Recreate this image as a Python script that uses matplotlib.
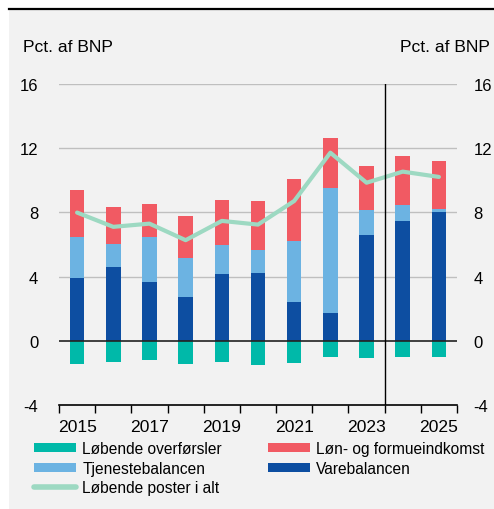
import matplotlib
matplotlib.use("Agg")
import matplotlib.pyplot as plt
import numpy as np
from matplotlib.lines import Line2D
from matplotlib.patches import Patch

plt.rcParams['font.family'] = ['Liberation Sans', 'DejaVu Sans']

years = [2015, 2016, 2017, 2018, 2019, 2020, 2021, 2022, 2023, 2024, 2025]
varebalancen = [3.94, 4.61, 3.69, 2.72, 4.15, 4.25, 2.43, 1.76, 6.58, 7.47, 8.03]
tjenestebalancen = [2.55, 1.41, 2.78, 2.43, 1.85, 1.39, 3.79, 7.76, 1.55, 1.02, 0.17]
loen_formue = [2.89, 2.34, 2.04, 2.61, 2.76, 3.05, 3.84, 3.11, 2.76, 3.00, 3.00]
overfoersler = [-1.45, -1.29, -1.20, -1.47, -1.35, -1.51, -1.41, -1.02, -1.10, -0.98, -1.04]
poster_i_alt = [7.99, 7.10, 7.30, 6.27, 7.47, 7.24, 8.71, 11.72, 9.85, 10.54, 10.21]
yticks = [-4, 0, 4, 8, 12, 16]
xlabels = ['2015', '2017', '2019', '2021', '2023', '2025']

c_teal = '#00b9a9'
c_red = '#f15a63'
c_light = '#6cb3e2'
c_dark = '#0d4ea1'
c_line = '#9dd9c2'
bg = '#f2f2f2'

fig = plt.figure(figsize=(4.94, 5.10), dpi=100)
fig.patch.set_facecolor('white')
fig.patches.append(plt.Rectangle((9/494, 0), 1, 1 - 9/510, transform=fig.transFigure,
                                 facecolor=bg, edgecolor='none', zorder=-10))
fig.lines.append(Line2D([9/494, 1], [1 - 9.5/510, 1 - 9.5/510], transform=fig.transFigure,
                        color='black', lw=1.6))

ax = fig.add_axes([59/494, (510-406)/510, (457-59)/494, (406-85)/510])
ax.set_facecolor(bg)
x = np.arange(len(years))
w = 0.4
v = np.array(varebalancen)
t = np.array(tjenestebalancen)
l = np.array(loen_formue)
ax.bar(x, overfoersler, w, color=c_teal, zorder=3)
ax.bar(x, v, w, color=c_dark, zorder=3)
ax.bar(x, t, w, bottom=v, color=c_light, zorder=3)
ax.bar(x, l, w, bottom=v + t, color=c_red, zorder=3)
ax.plot(x, poster_i_alt, color=c_line, lw=3, zorder=4, solid_capstyle='round')

ax.set_xlim(-0.5, len(years) - 0.5)
ax.set_ylim(-4, 16)
for yv in [4, 8, 12, 16]:
    ax.axhline(yv, color='#bfbfbf', lw=1, zorder=1)
ax.axhline(0, color='#222222', lw=1.2, zorder=5)
ax.axvline(8.5, color='black', lw=1, zorder=5)

for s in ['top', 'left', 'right']:
    ax.spines[s].set_visible(False)
ax.spines['bottom'].set_color('black')
ax.spines['bottom'].set_linewidth(1.2)

ax.set_yticks(yticks)
ax.set_yticklabels([str(v_) for v_ in yticks])
ax.tick_params(axis='y', length=0, pad=15, labelsize=12)

axr = ax.twinx()
axr.set_ylim(ax.get_ylim())
axr.set_yticks(yticks)
axr.set_yticklabels([str(v_) for v_ in yticks])
axr.tick_params(axis='y', length=0, pad=12, labelsize=12)
for s in axr.spines.values():
    s.set_visible(False)

ax.set_xticks(np.arange(-0.5, len(years), 1))
ax.set_xticklabels([])
ax.set_xticks(x[::2], minor=True)
ax.set_xticklabels(xlabels, minor=True)
ax.tick_params(axis='x', which='major', length=6, width=1, color='black', direction='out')
ax.tick_params(axis='x', which='minor', length=0, pad=10, labelsize=12.6)

fig.text(23/494, 1 - 48/510, 'Pct. af BNP', fontsize=12.6, ha='left', va='center')
fig.text(490/494, 1 - 48/510, 'Pct. af BNP', fontsize=12.6, ha='right', va='center')

handles = [
    Patch(facecolor=c_teal, label='Løbende overførsler'),
    Patch(facecolor=c_light, label='Tjenestebalancen'),
    Line2D([0], [0], color=c_line, lw=4, label='Løbende poster i alt', solid_capstyle='round'),
    Patch(facecolor=c_red, label='Løn- og formueindkomst'),
    Patch(facecolor=c_dark, label='Varebalancen'),
]
leg = fig.legend(handles=handles, ncol=2, loc='upper left', bbox_to_anchor=(34/494, 1 - 442/510),
                 frameon=False, fontsize=11.2, handlelength=2.7, handleheight=0.5,
                 handletextpad=0.4, columnspacing=2.95, labelspacing=0.3, borderpad=0,
                 borderaxespad=0)

fig.savefig('out.png', dpi=100, facecolor=fig.get_facecolor())
